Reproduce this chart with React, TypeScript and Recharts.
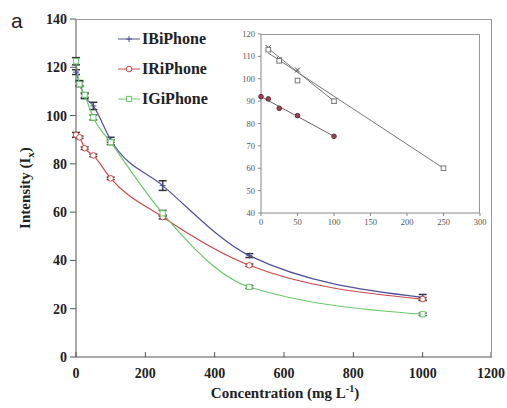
import React from "react";
import { LineChart, Line, XAxis, YAxis, ErrorBar } from "recharts";

// main chart values (mg/L vs intensity)
const CONC = [0, 10, 25, 50, 100, 250, 500, 1000];
const IB = [118, 113.5, 108, 104, 90, 71, 42, 24.7];
const IR = [92, 91, 86.5, 83.5, 74, 58, 38, 24];
const IG = [122.5, 113, 108.5, 99.2, 89, 59.5, 29, 17.7];
const IB_ERR = [1, 1, 1, 1.5, 1, 2, 0.8, 1.2];
const IR_ERR = [1, 0.5, 0.5, 0.5, 0.5, 0.8, 0.5, 0.6];
const IG_ERR = [1.5, 1, 1, 1, 1, 1.2, 0.6, 0.5];

const X_TICKS = [0, 200, 400, 600, 800, 1000, 1200];
const Y_TICKS = [0, 20, 40, 60, 80, 100, 120, 140];

// inset (linear range)
const IN_IB_CONC = [10, 25, 50, 100];
const IN_IB = [113.9, 108.7, 103.9, 90];
const IN_IG_CONC = [10, 25, 50, 100, 250];
const IN_IG = [113, 108, 99.2, 90, 60];
const IN_IR_CONC = [0, 10, 25, 50, 100];
const IN_IR = [92, 91, 86.8, 83.5, 74.3];
const FIT_IB_CONC = [10, 100];
const FIT_IB = [113.5, 90];
const FIT_IG_CONC = [10, 250];
const FIT_IG = [111.5, 60];
const FIT_IR_CONC = [0, 100];
const FIT_IR = [92, 74.3];

const IN_X_TICKS = [0, 50, 100, 150, 200, 250, 300];
const IN_Y_TICKS = [40, 50, 60, 70, 80, 90, 100, 110, 120];

const BLUE = "#50509a";
const RED = "#cc4848";
const GREEN = "#6cc86c";
const SERIF = "'Liberation Serif', 'Times New Roman', serif";

const mainData = CONC.map((c, i) => ({
  conc: c,
  ib: IB[i],
  ir: IR[i],
  ig: IG[i],
  ibErr: IB_ERR[i],
  irErr: IR_ERR[i],
  igErr: IG_ERR[i],
}));

const pts = (xs: number[], ys: number[]) => xs.map((x, i) => ({ x, y: ys[i] }));

const PlusDot = (props: any) => {
  const { cx, cy, stroke } = props;
  if (cx == null || cy == null) return null;
  return (
    <g key={props.key}>
      <line x1={cx - 3} x2={cx + 3} y1={cy} y2={cy} stroke={stroke} strokeWidth={1} />
      <line x1={cx} x2={cx} y1={cy - 3} y2={cy + 3} stroke={stroke} strokeWidth={1} />
    </g>
  );
};

const CircleDot = (props: any) => {
  const { cx, cy, stroke } = props;
  if (cx == null || cy == null) return null;
  return <circle key={props.key} cx={cx} cy={cy} r={2.8} fill="#fff" stroke={stroke} strokeWidth={1} />;
};

const SquareDot = (props: any) => {
  const { cx, cy, stroke } = props;
  if (cx == null || cy == null) return null;
  return <rect key={props.key} x={cx - 2.6} y={cy - 2.6} width={5.2} height={5.2} fill="#fff" stroke={stroke} strokeWidth={1} />;
};

const XTick = (props: any) => {
  const { x, payload } = props;
  return (
    <g>
      <line x1={x} x2={x} y1={357} y2={352} stroke="#555" />
      <text x={x} y={378} textAnchor="middle" fontFamily={SERIF} fontWeight="bold" fontSize={14} fill="#222">
        {payload.value}
      </text>
    </g>
  );
};

const legendItems = [
  { name: "IBiPhone", color: BLUE, Dot: PlusDot },
  { name: "IRiPhone", color: RED, Dot: CircleDot },
  { name: "IGiPhone", color: GREEN, Dot: SquareDot },
];

const LegendBox = () => (
  <div style={{ position: "absolute", left: 118, top: 24 }}>
    {legendItems.map((it) => (
      <div key={it.name} style={{ display: "flex", alignItems: "center", height: 30 }}>
        <svg width={22} height={10} style={{ marginRight: 2 }}>
          <line x1={0} x2={22} y1={5} y2={5} stroke={it.color} strokeWidth={1} />
          <it.Dot cx={11} cy={5} stroke={it.color} />
        </svg>
        <span style={{ fontFamily: SERIF, fontWeight: "bold", fontSize: 16, color: "#222" }}>{it.name}</span>
      </div>
    ))}
  </div>
);

const InsetDark = (props: any) => {
  const { cx, cy } = props;
  if (cx == null || cy == null) return null;
  return (
    <g key={props.key}>
      <line x1={cx - 2.5} x2={cx + 2.5} y1={cy - 2.5} y2={cy + 2.5} stroke="#444" />
      <line x1={cx - 2.5} x2={cx + 2.5} y1={cy + 2.5} y2={cy - 2.5} stroke="#444" />
    </g>
  );
};

const InsetSquare = (props: any) => {
  const { cx, cy } = props;
  if (cx == null || cy == null) return null;
  return <rect key={props.key} x={cx - 2.3} y={cy - 2.3} width={4.6} height={4.6} fill="#fff" stroke="#777" />;
};

const InsetRed = (props: any) => {
  const { cx, cy } = props;
  if (cx == null || cy == null) return null;
  return <circle key={props.key} cx={cx} cy={cy} r={2.3} fill="#a04050" stroke="#603040" />;
};

const insetTick = { fontFamily: SERIF, fontSize: 8.5, fill: "#555" };

export default function App() {
  return (
    <div style={{ position: "absolute", left: 0, top: 0, width: 507, height: 408, background: "#fff" }}>
      <LineChart width={507} height={408} data={mainData} margin={{ top: 19, right: 15, bottom: 0, left: 0 }}>
        <XAxis
          dataKey="conc"
          type="number"
          domain={[0, 1200]}
          ticks={X_TICKS}
          height={51}
          stroke="#555"
          tickLine={false}
          tick={<XTick />}
          label={{
            content: () => (
              <text x={285} y={398} textAnchor="middle" fontFamily={SERIF} fontWeight="bold" fontSize={15} fill="#222">
                Concentration (mg L
                <tspan dy={-6} fontSize={10}>-1</tspan>
                <tspan dy={6}>)</tspan>
              </text>
            ),
          }}
        />
        <YAxis
          type="number"
          domain={[0, 140]}
          ticks={Y_TICKS}
          width={76}
          stroke="#555"
          tickSize={6}
          tickMargin={3}
          tick={{ fontFamily: SERIF, fontWeight: "bold", fontSize: 14, fill: "#222" }}
          label={{
            content: () => (
              <text
                x={30}
                y={188}
                transform="rotate(-90 30 188)"
                textAnchor="middle"
                fontFamily={SERIF}
                fontWeight="bold"
                fontSize={15}
                fill="#222"
              >
                Intensity (I
                <tspan dy={4} fontSize={11}>x</tspan>
                <tspan dy={-4}>)</tspan>
              </text>
            ),
          }}
        />
        <Line
          name="IBiPhone"
          dataKey="ib"
          type="monotone"
          stroke={BLUE}
          strokeWidth={1.2}
          dot={<PlusDot />}
          isAnimationActive={false}
        >
          <ErrorBar dataKey="ibErr" width={4} stroke="#333" direction="y" />
        </Line>
        <Line
          name="IRiPhone"
          dataKey="ir"
          type="monotone"
          stroke={RED}
          strokeWidth={1.2}
          dot={<CircleDot />}
          isAnimationActive={false}
        >
          <ErrorBar dataKey="irErr" width={4} stroke="#333" direction="y" />
        </Line>
        <Line
          name="IGiPhone"
          dataKey="ig"
          type="monotone"
          stroke={GREEN}
          strokeWidth={1.2}
          dot={<SquareDot />}
          isAnimationActive={false}
        >
          <ErrorBar dataKey="igErr" width={4} stroke="#333" direction="y" />
        </Line>
      </LineChart>

      {/* frame: top and right edges of the main plot */}
      <div
        style={{
          position: "absolute",
          left: 76,
          top: 19,
          width: 416,
          height: 338,
          borderTop: "1px solid #999",
          borderRight: "1px solid #999",
          boxSizing: "border-box",
          pointerEvents: "none",
        }}
      />

      <LegendBox />

      <svg style={{ position: "absolute", left: 0, top: 0 }} width={40} height={40}>
        <text x={11} y={28} fontFamily="'Liberation Sans', Arial, sans-serif" fontSize={21} fill="#222">
          a
        </text>
      </svg>

      <div style={{ position: "absolute", left: 225, top: 25 }}>
        <LineChart width={270} height={215} margin={{ top: 9, right: 15, bottom: 0, left: 0 }}>
          <XAxis dataKey="x" type="number" domain={[0, 300]} ticks={IN_X_TICKS} height={27} stroke="#888" tickSize={3} tickMargin={3} tick={insetTick} allowDuplicatedCategory={false} />
          <YAxis type="number" domain={[40, 120]} ticks={IN_Y_TICKS} width={36} stroke="#888" tickSize={3} tickMargin={3} tick={insetTick} />
          <Line data={pts(FIT_IB_CONC, FIT_IB)} dataKey="y" type="linear" stroke="#777" strokeWidth={1} dot={false} isAnimationActive={false} />
          <Line data={pts(FIT_IG_CONC, FIT_IG)} dataKey="y" type="linear" stroke="#777" strokeWidth={1} dot={false} isAnimationActive={false} />
          <Line data={pts(FIT_IR_CONC, FIT_IR)} dataKey="y" type="linear" stroke="#666" strokeWidth={1} dot={false} isAnimationActive={false} />
          <Line data={pts(IN_IB_CONC, IN_IB)} dataKey="y" stroke="none" dot={<InsetDark />} isAnimationActive={false} />
          <Line data={pts(IN_IG_CONC, IN_IG)} dataKey="y" stroke="none" dot={<InsetSquare />} isAnimationActive={false} />
          <Line data={pts(IN_IR_CONC, IN_IR)} dataKey="y" stroke="none" dot={<InsetRed />} isAnimationActive={false} />
        </LineChart>
        <div
          style={{
            position: "absolute",
            left: 36,
            top: 9,
            width: 219,
            height: 179,
            borderTop: "1px solid #999",
            borderRight: "1px solid #999",
            boxSizing: "border-box",
            pointerEvents: "none",
          }}
        />
      </div>
    </div>
  );
}
